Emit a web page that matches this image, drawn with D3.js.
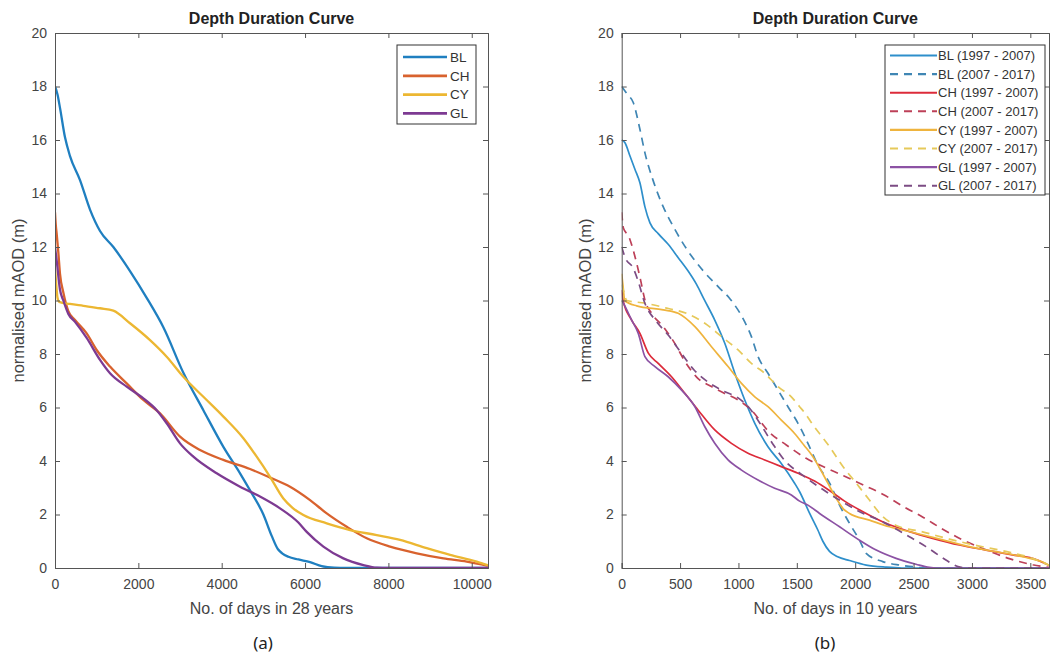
<!DOCTYPE html>
<html>
<head>
<meta charset="utf-8">
<script src="https://cdn.jsdelivr.net/npm/d3@7"></script>
<style>
  html, body { margin: 0; padding: 0; background: #fff; }
  svg { display: block; font-family: "Liberation Sans", Arial, sans-serif; }
</style>
</head>
<body>
<svg id="chart" width="1062" height="657"></svg>
<script>
// ---------- Panel (a): full 28-year record, [day, normalised mAOD] ----------
const blAll = [[0,18.0],[60,17.7],[120,17.2],[240,16.1],[360,15.4],[600,14.5],[840,13.4],[1080,12.6],[1400,12.0],[1800,11.1],[2200,10.1],[2600,9.0],[3080,7.3],[3560,5.9],[4040,4.53],[4440,3.54],[4700,2.85],[5000,2.0],[5200,1.2],[5350,0.7],[5450,0.55],[5600,0.42],[5840,0.32],[6120,0.22],[6400,0.07],[6700,0.01],[7000,0],[10390,0]];
const chAll = [[0,13.3],[20,12.8],[40,12.5],[80,11.8],[120,11.0],[200,10.3],[320,9.6],[480,9.27],[760,8.77],[1000,8.15],[1320,7.53],[1720,6.9],[2120,6.28],[2520,5.78],[3000,4.91],[3480,4.41],[4040,4.04],[4680,3.7],[5160,3.38],[5640,3.04],[6120,2.54],[6520,2.04],[7000,1.54],[7480,1.11],[8040,0.8],[8680,0.55],[9320,0.36],[9880,0.24],[10390,0.08]];
const cyAll = [[0,11.2],[30,10.6],[60,10.1],[100,9.95],[360,9.87],[680,9.8],[1080,9.71],[1400,9.62],[1800,9.15],[2280,8.52],[2680,7.9],[3080,7.15],[3560,6.4],[4040,5.66],[4520,4.85],[4840,4.16],[5160,3.41],[5480,2.6],[5700,2.25],[5960,1.98],[6520,1.67],[7080,1.42],[7720,1.23],[8280,1.05],[8920,0.74],[9480,0.49],[10120,0.24],[10390,0.1]];
const glAll = [[0,12.0],[40,11.5],[120,10.4],[200,10.0],[320,9.5],[480,9.2],[760,8.6],[1080,7.78],[1320,7.28],[1720,6.78],[2120,6.34],[2440,5.9],[2680,5.41],[3000,4.66],[3320,4.16],[3880,3.54],[4440,3.04],[4920,2.67],[5400,2.23],[5840,1.7],[6040,1.35],[6440,0.8],[6920,0.36],[7400,0.11],[7720,0.01],[8000,0],[10390,0]];

// ---------- Panel (b): two 10-year windows ----------
const blEarly = [[0,16.0],[28,15.9],[71,15.4],[114,14.9],[156,14.4],[199,13.5],[242,12.9],[313,12.5],[398,12.1],[484,11.6],[569,11.1],[641,10.6],[705,10.05],[797,9.27],[883,8.4],[969,7.28],[1054,6.28],[1140,5.41],[1253,4.53],[1367,3.91],[1481,3.17],[1524,2.85],[1610,2.04],[1680,1.42],[1723,1.0],[1780,0.62],[1850,0.42],[1951,0.28],[2094,0.11],[2265,0.03],[2400,0],[3660,0]];
const blLate = [[0,18.0],[50,17.7],[99,17.4],[156,16.4],[200,15.5],[268,14.5],[356,13.5],[450,12.7],[560,11.9],[700,11.1],[830,10.5],[930,10.05],[1054,9.2],[1111,8.65],[1168,7.9],[1253,7.28],[1339,6.65],[1424,6.03],[1510,5.41],[1595,4.66],[1680,3.85],[1781,3.17],[1866,2.35],[1951,1.67],[2037,1.04],[2094,0.55],[2236,0.24],[2379,0.11],[2492,0.05],[2600,0],[3660,0]];
const chEarly = [[0,10.4],[12,10.0],[85,9.27],[156,8.77],[228,8.03],[313,7.65],[427,7.15],[541,6.53],[655,5.9],[797,5.16],[940,4.66],[1082,4.29],[1225,4.04],[1367,3.79],[1510,3.54],[1652,3.25],[1795,2.85],[1909,2.5],[2094,2.04],[2265,1.67],[2464,1.36],[2663,1.11],[2892,0.86],[3120,0.67],[3347,0.49],[3518,0.36],[3660,0.1]];
const chLate = [[0,13.3],[15,12.7],[60,12.4],[110,11.7],[160,10.8],[200,10.0],[260,9.5],[360,9.0],[440,8.5],[560,7.6],[650,7.1],[760,6.8],[870,6.55],[990,6.3],[1100,5.95],[1270,5.05],[1410,4.6],[1580,4.1],[1720,3.8],[1900,3.45],[2070,3.1],[2240,2.75],[2410,2.3],[2580,1.9],[2750,1.45],[2920,1.05],[3120,0.68],[3320,0.35],[3520,0.12],[3660,0.02]];
const cyEarly = [[0,11.0],[15,10.4],[25,10.0],[128,9.8],[356,9.65],[484,9.52],[627,9.02],[769,8.27],[911,7.53],[1026,6.9],[1140,6.4],[1253,6.03],[1367,5.53],[1481,5.03],[1560,4.6],[1638,4.16],[1700,3.7],[1766,3.17],[1838,2.6],[1900,2.2],[1951,2.04],[2122,1.79],[2294,1.54],[2521,1.3],[2749,1.05],[2977,0.8],[3205,0.61],[3433,0.42],[3633,0.17],[3660,0.1]];
const cyLate = [[0,10.6],[20,10.3],[43,10.0],[200,9.9],[400,9.7],[555,9.52],[712,9.15],[855,8.65],[997,8.15],[1111,7.65],[1225,7.28],[1339,6.78],[1453,6.4],[1524,6.03],[1567,5.8],[1638,5.35],[1781,4.53],[1895,3.79],[2009,3.17],[2122,2.54],[2236,1.92],[2379,1.54],[2550,1.38],[2806,1.08],[3062,0.82],[3290,0.62],[3518,0.36],[3660,0.1]];
const glEarly = [[0,10.0],[14,9.9],[85,9.27],[142,8.77],[199,7.9],[285,7.53],[398,7.15],[513,6.65],[627,6.03],[712,5.28],[797,4.66],[911,4.04],[1026,3.66],[1168,3.29],[1310,2.98],[1453,2.73],[1524,2.5],[1595,2.35],[1695,2.04],[1866,1.54],[2037,1.04],[2180,0.67],[2350,0.36],[2521,0.14],[2635,0.02],[2700,0],[3660,0]];
const glLate = [[0,12.0],[30,11.6],[100,11.2],[150,10.6],[190,10.0],[300,9.2],[400,8.7],[500,8.1],[620,7.4],[740,6.95],[880,6.6],[1000,6.35],[1090,6.0],[1200,5.3],[1300,4.6],[1400,4.0],[1540,3.5],[1650,3.15],[1770,2.8],[1900,2.45],[2065,2.05],[2200,1.8],[2320,1.53],[2464,1.17],[2606,0.8],[2777,0.3],[2880,0.05],[2950,0],[3660,0]];

// ---------- Labels and ticks ----------
const titleText = "Depth Duration Curve";
const yLabelText = "normalised mAOD (m)";
const xLabelA = "No. of days in 28 years";
const xLabelB = "No. of days in 10 years";
const yTicks = [0, 2, 4, 6, 8, 10, 12, 14, 16, 18, 20];
const xTicksA = [0, 2000, 4000, 6000, 8000, 10000];
const xTicksB = [0, 500, 1000, 1500, 2000, 2500, 3000, 3500];

const seriesA = [
  { name: "BL", data: blAll, color: "#1f7fc0", dash: null },
  { name: "CH", data: chAll, color: "#d8622e", dash: null },
  { name: "CY", data: cyAll, color: "#ecb732", dash: null },
  { name: "GL", data: glAll, color: "#7d3a92", dash: null }
];
const seriesB = [
  { name: "BL (1997 - 2007)", data: blEarly, color: "#2e8fcb", dash: null },
  { name: "BL (2007 - 2017)", data: blLate,  color: "#3f86b4", dash: "8,6" },
  { name: "CH (1997 - 2007)", data: chEarly, color: "#dc2b3a", dash: null },
  { name: "CH (2007 - 2017)", data: chLate,  color: "#bd4058", dash: "8,6" },
  { name: "CY (1997 - 2007)", data: cyEarly, color: "#efb43e", dash: null },
  { name: "CY (2007 - 2017)", data: cyLate,  color: "#e6c95a", dash: "8,6" },
  { name: "GL (1997 - 2007)", data: glEarly, color: "#8c52a4", dash: null },
  { name: "GL (2007 - 2017)", data: glLate,  color: "#7c4c84", dash: "8,6" }
];

const svg = d3.select("#chart");
const axisColor = "#555";
const textColor = "#444";

function drawPanel(opt) {
  const x = d3.scaleLinear().domain([0, opt.xMax]).range([opt.left, opt.right]);
  const y = d3.scaleLinear().domain([0, 20]).range([opt.bottom, opt.top]);
  const g = svg.append("g");

  // clip the curves to the axes box
  const clipId = "clip-" + opt.id;
  svg.append("clipPath").attr("id", clipId)
    .append("rect").attr("x", opt.left).attr("y", opt.top)
    .attr("width", opt.right - opt.left).attr("height", opt.bottom - opt.top);

  const line = d3.line().x(d => x(d[0])).y(d => y(d[1])).curve(d3.curveMonotoneX);
  g.append("g").attr("clip-path", `url(#${clipId})`)
    .selectAll("path").data(opt.series).join("path")
    .attr("d", d => line(d.data))
    .attr("fill", "none")
    .attr("stroke", d => d.color)
    .attr("stroke-width", opt.lineWidth)
    .attr("stroke-dasharray", d => d.dash)
    .attr("stroke-linejoin", "round");

  // axes: bottom / left with labels, top / right mirrored without labels
  const tick = 5;
  const bottomAxis = d3.axisBottom(x).tickValues(opt.xTicks).tickSize(-tick).tickPadding(11).tickFormat(d3.format("d"));
  const leftAxis = d3.axisLeft(y).tickValues(yTicks).tickSize(-tick).tickPadding(8).tickFormat(d3.format("d"));
  const topAxis = d3.axisTop(x).tickValues(opt.xTicks).tickSize(-tick).tickFormat("");
  const rightAxis = d3.axisRight(y).tickValues(yTicks).tickSize(-tick).tickFormat("");

  const axes = [
    g.append("g").attr("transform", `translate(0,${opt.bottom})`).call(bottomAxis),
    g.append("g").attr("transform", `translate(${opt.left},0)`).call(leftAxis),
    g.append("g").attr("transform", `translate(0,${opt.top})`).call(topAxis),
    g.append("g").attr("transform", `translate(${opt.right},0)`).call(rightAxis)
  ];
  axes.forEach(a => {
    a.select(".domain").attr("stroke", axisColor).attr("stroke-width", 1);
    a.selectAll(".tick line").attr("stroke", axisColor);
    a.selectAll(".tick text").attr("fill", textColor).style("font-size", "14px")
      .style("font-family", "'Liberation Sans', Arial, sans-serif");
  });

  const cx = (opt.left + opt.right) / 2;
  g.append("text").attr("x", cx).attr("y", 24).attr("text-anchor", "middle")
    .attr("font-weight", "bold").attr("font-size", 16).attr("fill", "#222").text(titleText);
  g.append("text").attr("x", cx).attr("y", 614).attr("text-anchor", "middle")
    .attr("font-size", 16).attr("fill", textColor).text(opt.xLabel);
  g.append("text").attr("transform", `translate(${opt.yLabelX},${(opt.top + opt.bottom) / 2}) rotate(-90)`)
    .attr("text-anchor", "middle").attr("font-size", 16.5).attr("fill", textColor).text(yLabelText);
  g.append("text").attr("x", opt.captionX).attr("y", 649).attr("text-anchor", "middle")
    .attr("font-size", 17).attr("fill", "#222").style("font-family", "'Noto Sans', 'Open Sans', sans-serif")
    .text(opt.caption);

  // legend
  const L = opt.legend;
  const lg = g.append("g");
  lg.append("rect").attr("x", L.x).attr("y", L.y).attr("width", L.w).attr("height", L.h)
    .attr("fill", "#fff").attr("stroke", "#333").attr("stroke-width", 1);
  const rows = lg.selectAll("g.row").data(opt.series).join("g").attr("class", "row")
    .attr("transform", (d, i) => `translate(0,${L.firstRow + i * L.rowGap})`);
  rows.append("line").attr("x1", L.lineX1).attr("x2", L.lineX2).attr("y1", 0).attr("y2", 0)
    .attr("stroke", d => d.color).attr("stroke-width", opt.lineWidth + 0.4)
    .attr("stroke-dasharray", d => d.dash);
  rows.append("text").attr("x", L.textX).attr("y", 4.7).attr("font-size", L.fontSize)
    .attr("fill", "#333").text(d => d.name);
}

drawPanel({
  id: "a", series: seriesA, xMax: 10390, xTicks: xTicksA, xLabel: xLabelA,
  left: 55, right: 488, top: 33, bottom: 568, lineWidth: 2.3,
  yLabelX: 24, caption: "(a)", captionX: 263,
  legend: { x: 397, y: 45, w: 79, h: 79, firstRow: 57, rowGap: 18.8,
            lineX1: 403, lineX2: 447, textX: 450, fontSize: 13.5 }
});

drawPanel({
  id: "b", series: seriesB, xMax: 3660, xTicks: xTicksB, xLabel: xLabelB,
  left: 621.7, right: 1049, top: 33, bottom: 568, lineWidth: 1.7,
  yLabelX: 591, caption: "(b)", captionX: 825,
  legend: { x: 885, y: 45, w: 160, h: 150, firstRow: 55.5, rowGap: 18.6,
            lineX1: 890, lineX2: 937, textX: 938, fontSize: 13 }
});
</script>
</body>
</html>
